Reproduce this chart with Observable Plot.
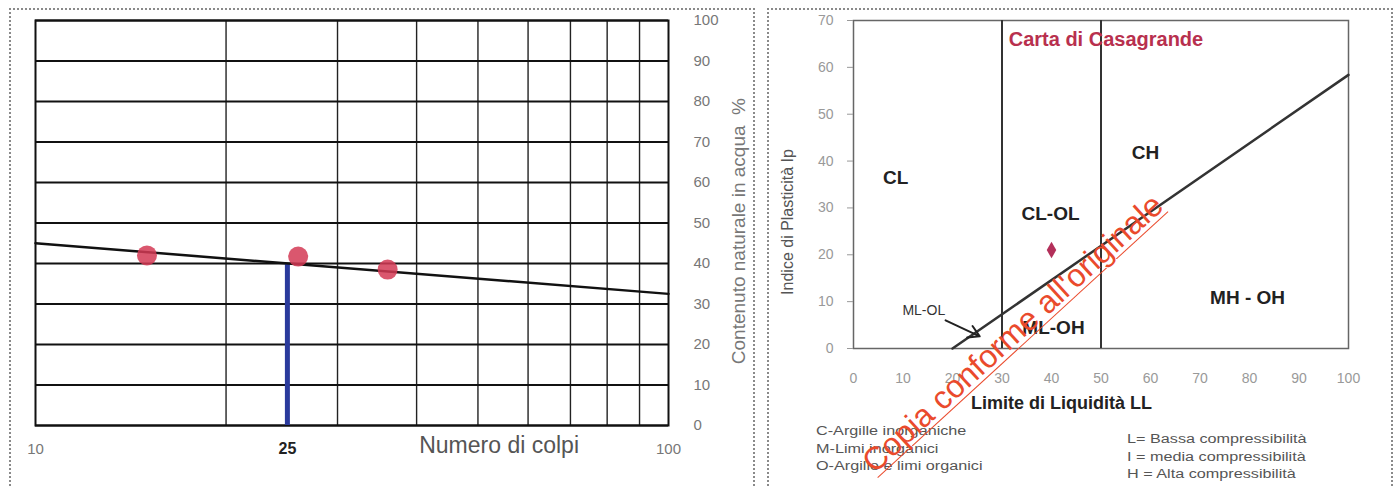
<!DOCTYPE html>
<html><head><meta charset="utf-8">
<script src="https://cdn.jsdelivr.net/npm/d3@7"></script>
<script src="https://cdn.jsdelivr.net/npm/@observablehq/plot@0.6"></script>
<style>
html,body{margin:0;padding:0;background:#fff;width:1398px;height:488px;overflow:hidden;font-family:"Liberation Sans",Arial,sans-serif;}
#wrap{position:relative;width:1398px;height:488px;overflow:hidden;}
.panel{position:absolute;border:2px dotted #8a8a8a;box-sizing:border-box;}
.chart{position:absolute;top:0;}
.note{position:absolute;font-size:12px;color:#555;line-height:17.5px;white-space:nowrap;transform-origin:0 0;transform:scaleX(1.35);}
#stamp{position:absolute;left:878px;top:446px;font-size:32px;color:#ea4a2c;white-space:nowrap;transform-origin:0 100%;transform:rotate(-42.5deg);text-decoration:underline;text-decoration-thickness:1px;text-underline-offset:4px;line-height:32px;}
</style></head>
<body><div id="wrap">
<div class="panel" style="left:9px;top:8px;width:746px;height:482px"></div>
<div class="panel" style="left:767px;top:8px;width:626px;height:482px"></div>
<div id="left" class="chart" style="left:0"></div>
<div id="right" class="chart" style="left:760px"></div>
<div class="note" style="left:816px;top:423px">C-Argille inorganiche<br>M-Limi inorganici<br>O-Argille e limi organici</div>
<div class="note" style="left:1127px;top:431px">L= Bassa compressibilità<br>I = media compressibilità<br>H = Alta compressibilità</div>
<div id="stamp">Copia conforme all'originale</div>
</div>
<script>
// ---- Left chart data (flow curve) ----
const blows = [15, 26, 36];
const waterContent = [42, 41.7, 38.5];
const fitBlows = [10, 100];
const fitWater = [45, 32.5];
const llBlows = 25;
const llValue = 40;
const leftYTicks = [0, 10, 20, 30, 40, 50, 60, 70, 80, 90, 100];
const leftXGrid = [20, 30, 40, 50, 60, 70, 80, 90];
const leftXLabels = ["10", "100"];
const leftXLabelValues = [10, 100];

// ---- Right chart data (Casagrande) ----
const sampleLL = [40];
const sampleIp = [21];
const aLineLL = [20, 100];
const aLineIp = [0, 58.4];
const dividerLL = [30, 50];
const zoneNames = ["CL", "CL-OL", "CH", "ML-OH", "MH - OH"];
const zoneLL = [8.5, 39.8, 59, 40.4, 79.6];
const zoneIp = [36.5, 28.8, 41.8, 4.5, 10.7];
const smallZoneNames = ["ML-OL"];
const smallZoneLL = [14.2];
const smallZoneIp = [8.1];
const arrowFrom = [18.6, 6.0];
const arrowTo = [25.5, 2.6];
const rightXTicks = [0, 10, 20, 30, 40, 50, 60, 70, 80, 90, 100];
const rightYTicks = [0, 10, 20, 30, 40, 50, 60, 70];

const font = "Liberation Sans, Arial, sans-serif";

const pts = blows.map((b, i) => ({b, w: waterContent[i]}));
const fit = fitBlows.map((b, i) => ({b, w: fitWater[i]}));
const xl = leftXLabels.map((t, i) => ({t, v: leftXLabelValues[i]}));

const left = Plot.plot({
  width: 760, height: 488,
  marginLeft: 35, marginRight: 92, marginTop: 20, marginBottom: 63,
  x: {type: "log", domain: [10, 100], axis: null},
  y: {domain: [0, 100], axis: null},
  style: {fontFamily: font, background: "transparent", overflow: "visible"},
  marks: [
    Plot.ruleX(leftXGrid, {stroke: "#222", strokeWidth: 1.4}),
    Plot.ruleY(leftYTicks, {stroke: "#111", strokeWidth: 2.2}),
    Plot.frame({stroke: "#111", strokeWidth: 2}),
    Plot.axisY({anchor: "right", ticks: leftYTicks, tickSize: 0, tickPadding: 25, fontSize: 15, color: "#777", label: null}),
    Plot.ruleX([llBlows], {y1: 0, y2: llValue, stroke: "#2a3a9c", strokeWidth: 5}),
    Plot.line(fit, {x: "b", y: "w", stroke: "#111", strokeWidth: 2.5}),
    Plot.dot(pts, {x: "b", y: "w", r: 10, fill: "#d43a55", fillOpacity: 0.85}),
    Plot.text(xl, {x: "v", text: "t", frameAnchor: "bottom", dy: 28, fontSize: 15, fill: "#777"}),
    Plot.text([String(llBlows)], {x: llBlows, frameAnchor: "bottom", dy: 28, fontSize: 16, fontWeight: "bold", fill: "#222"}),
    Plot.text(["Numero di colpi"], {x: 54, frameAnchor: "bottom", dy: 27, fontSize: 23, fill: "#555"}),
    Plot.text(["Contenuto naturale in acqua  %"], {y: 48, frameAnchor: "right", dx: 70, rotate: -90, textAnchor: "middle", fontSize: 19, fill: "#777"})
  ]
});
document.getElementById("left").appendChild(left);

const zones = zoneNames.map((n, i) => ({n, x: zoneLL[i], y: zoneIp[i]}));
const smallZones = smallZoneNames.map((n, i) => ({n, x: smallZoneLL[i], y: smallZoneIp[i]}));
const right = Plot.plot({
  width: 638, height: 488,
  marginLeft: 93, marginRight: 50, marginTop: 20, marginBottom: 140,
  x: {domain: [0, 100], axis: null},
  y: {domain: [0, 70], axis: null},
  style: {fontFamily: font, background: "transparent", overflow: "visible"},
  marks: [
    Plot.frame({stroke: "#666", strokeWidth: 1.5}),
    Plot.axisY({ticks: rightYTicks, tickSize: 6, tickPadding: 14, fontSize: 14, color: "#999", label: null}),
    Plot.axisX({ticks: rightXTicks, tickSize: 0, tickPadding: 25, fontSize: 14, color: "#999", label: null}),
    Plot.ruleX(dividerLL, {y1: 0, y2: 70, stroke: "#333", strokeWidth: 2}),
    Plot.line(aLineLL.map((x, i) => ({x, y: aLineIp[i]})), {x: "x", y: "y", stroke: "#333", strokeWidth: 2.5}),
    Plot.dot(sampleLL.map((x, i) => ({x, y: sampleIp[i]})), {x: "x", y: "y", symbol: "diamond", r: 5, fill: "#b3305a"}),
    Plot.arrow([{x1: arrowFrom[0], y1: arrowFrom[1], x2: arrowTo[0], y2: arrowTo[1]}],
      {x1: "x1", y1: "y1", x2: "x2", y2: "y2", stroke: "#222", strokeWidth: 2, headLength: 10}),
    Plot.text(zones, {x: "x", y: "y", text: "n", fontSize: 19, fontWeight: "bold", fill: "#222"}),
    Plot.text(smallZones, {x: "x", y: "y", text: "n", fontSize: 14, fill: "#333"}),
    Plot.text(["Carta di Casagrande"], {x: 51, y: 66, fontSize: 20, fontWeight: "bold", fill: "#b8304e"}),
    Plot.text(["Limite di Liquidità LL"], {x: 42, frameAnchor: "bottom", dy: 60, fontSize: 18, fontWeight: "bold", fill: "#222"}),
    Plot.text(["Indice di Plasticità Ip"], {y: 27, frameAnchor: "left", dx: -66, rotate: -90, textAnchor: "middle", fontSize: 16, fill: "#555"})
  ]
});
document.getElementById("right").appendChild(right);
</script>
</body></html>
